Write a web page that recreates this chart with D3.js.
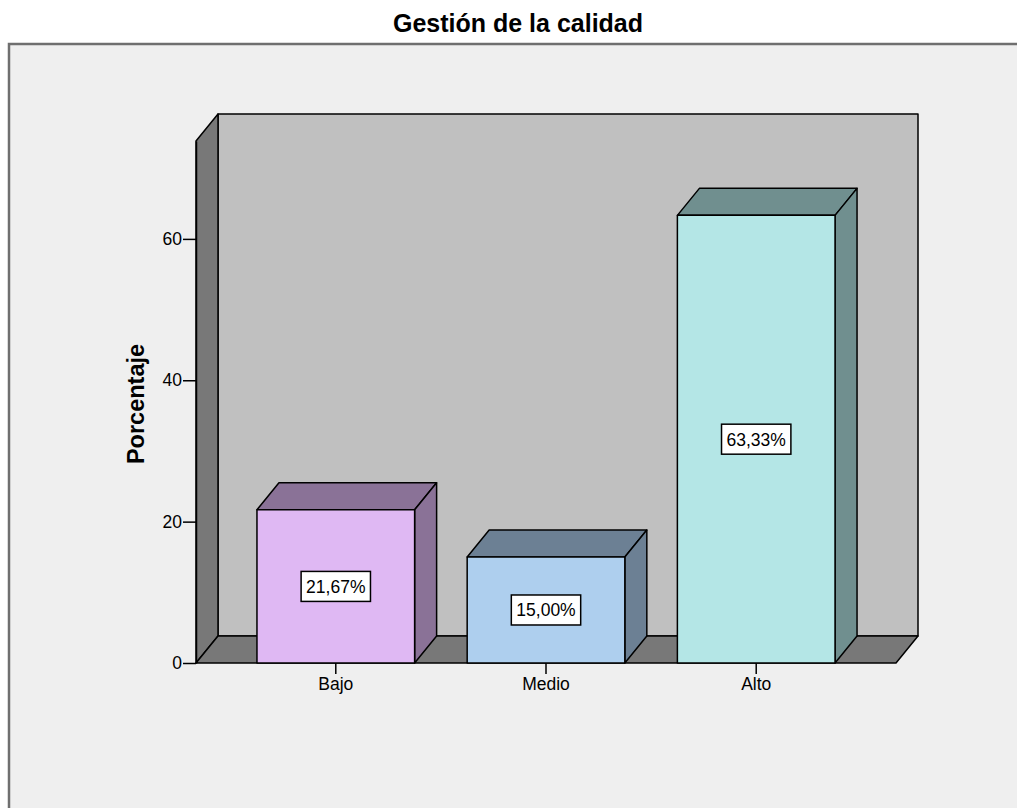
<!DOCTYPE html>
<html>
<head>
<meta charset="utf-8">
<script src="https://cdn.jsdelivr.net/npm/d3@7"></script>
<style>
  body { margin: 0; background: #fff; }
  text { font-family: "Liberation Sans", Arial, sans-serif; fill: #000; }
</style>
</head>
<body>
<div class="chart"></div>
<script>
var categories = ["Bajo", "Medio", "Alto"];
var percentages = [21.67, 15.00, 63.33];
var yTicks = [0, 20, 40, 60];
var frontColors = ["#dfb8f3", "#aecfee", "#b4e6e6"];

var width = 1017,
    height = 808;

// depth of the 3D effect
var dx = 22, dy = 27;

var es = d3.formatLocale({decimal: ",", thousands: ".", grouping: [3], currency: ["", "€"]});
var pct = function(v) { return es.format(".2f")(v) + "%"; };

var svg = d3.select(".chart").append("svg")
    .attr("width", width)
    .attr("height", height);

// panel
svg.append("rect")
    .attr("x", 9).attr("y", 44)
    .attr("width", width).attr("height", height)
    .attr("fill", "#efefef");
svg.append("path")
    .attr("d", "M9," + height + "V44H" + width)
    .attr("fill", "none")
    .attr("stroke", "#6f6f6f")
    .attr("stroke-width", 2.5);

svg.append("text")
    .attr("x", 518).attr("y", 32)
    .attr("text-anchor", "middle")
    .style("font-size", "25px")
    .style("font-weight", "bold")
    .text("Gestión de la calidad");

var x = d3.scaleBand()
    .domain(categories)
    .range([196, 896])
    .paddingInner(0.25)
    .paddingOuter(0.29);

var y = d3.scaleLinear()
    .domain([0, 73.85])
    .range([663, 141]);

var x0 = x.range()[0], x1 = x.range()[1];
var y0 = y(0), yTop = y.range()[1];

// walls
var walls = svg.append("g").attr("stroke", "#000").attr("stroke-width", 1.5).attr("stroke-linejoin", "round");
walls.append("rect")
    .attr("x", x0 + dx).attr("y", yTop - dy)
    .attr("width", x1 - x0).attr("height", y0 - yTop)
    .attr("fill", "#c0c0c0");
walls.append("polygon")
    .attr("points", [[x0, yTop], [x0 + dx, yTop - dy], [x0 + dx, y0 - dy], [x0, y0]].join(" "))
    .attr("fill", "#787878");
walls.append("polygon")
    .attr("points", [[x0, y0], [x0 + dx, y0 - dy], [x1 + dx, y0 - dy], [x1, y0]].join(" "))
    .attr("fill", "#787878");

// y axis
var yAxis = svg.append("g")
    .attr("transform", "translate(" + x0 + ",0)")
    .call(d3.axisLeft(y).tickValues(yTicks).tickSize(13).tickSizeOuter(0).tickPadding(1).tickFormat(d3.format("d")));
yAxis.select(".domain").attr("stroke-width", 1.5);
yAxis.selectAll(".tick line").attr("stroke-width", 1.5);
yAxis.selectAll(".tick text").style("font-size", "17.5px").style("font-family", "Liberation Sans, Arial, sans-serif");

svg.append("text")
    .attr("transform", "translate(144," + ((y0 + yTop) / 2 + 2) + ") rotate(-90)")
    .attr("text-anchor", "middle")
    .style("font-size", "23.5px")
    .style("font-weight", "bold")
    .text("Porcentaje");

// x axis
var xAxis = svg.append("g")
    .attr("transform", "translate(0," + y0 + ")")
    .call(d3.axisBottom(x).tickSize(11).tickPadding(4));
xAxis.select(".domain").remove();
xAxis.selectAll(".tick line").attr("stroke-width", 1.5);
xAxis.selectAll(".tick text").style("font-size", "17.5px").style("font-family", "Liberation Sans, Arial, sans-serif");

// bars
var data = categories.map(function(c, i) { return {cat: c, value: percentages[i], color: frontColors[i]}; });

var bar = svg.selectAll(".bar")
    .data(data)
    .enter().append("g")
    .attr("class", "bar")
    .attr("stroke", "#000")
    .attr("stroke-width", 1.5)
    .attr("stroke-linejoin", "round");

function darker(c) {
  var r = d3.rgb(c);
  return d3.rgb(r.r * 0.62, r.g * 0.62, r.b * 0.62);
}

bar.append("polygon")
    .attr("points", function(d) {
      var bx = x(d.cat), w = x.bandwidth(), yv = y(d.value);
      return [[bx, yv], [bx + dx, yv - dy], [bx + w + dx, yv - dy], [bx + w, yv]].join(" ");
    })
    .attr("fill", function(d) { return darker(d.color); });
bar.append("polygon")
    .attr("points", function(d) {
      var bx = x(d.cat), w = x.bandwidth(), yv = y(d.value);
      return [[bx + w, yv], [bx + w + dx, yv - dy], [bx + w + dx, y0 - dy], [bx + w, y0]].join(" ");
    })
    .attr("fill", function(d) { return darker(d.color); });
bar.append("rect")
    .attr("x", function(d) { return x(d.cat); })
    .attr("y", function(d) { return y(d.value); })
    .attr("width", x.bandwidth())
    .attr("height", function(d) { return y0 - y(d.value); })
    .attr("fill", function(d) { return d.color; });

// value labels
var lab = svg.selectAll(".lab")
    .data(data)
    .enter().append("g")
    .attr("class", "lab")
    .attr("transform", function(d) {
      return "translate(" + (x(d.cat) + x.bandwidth() / 2) + "," + ((y(d.value) + y0) / 2) + ")";
    });
var box = lab.append("rect")
    .attr("fill", "#fff")
    .attr("stroke", "#000")
    .attr("stroke-width", 1.5);
var txt = lab.append("text")
    .attr("text-anchor", "middle")
    .attr("y", 6.5)
    .style("font-size", "17.5px")
    .text(function(d) { return pct(d.value); });
txt.each(function() {
  var w = this.getComputedTextLength() + 10;
  d3.select(this.parentNode).select("rect")
      .attr("x", -w / 2).attr("y", -15)
      .attr("width", w).attr("height", 30);
});
</script>
</body>
</html>
